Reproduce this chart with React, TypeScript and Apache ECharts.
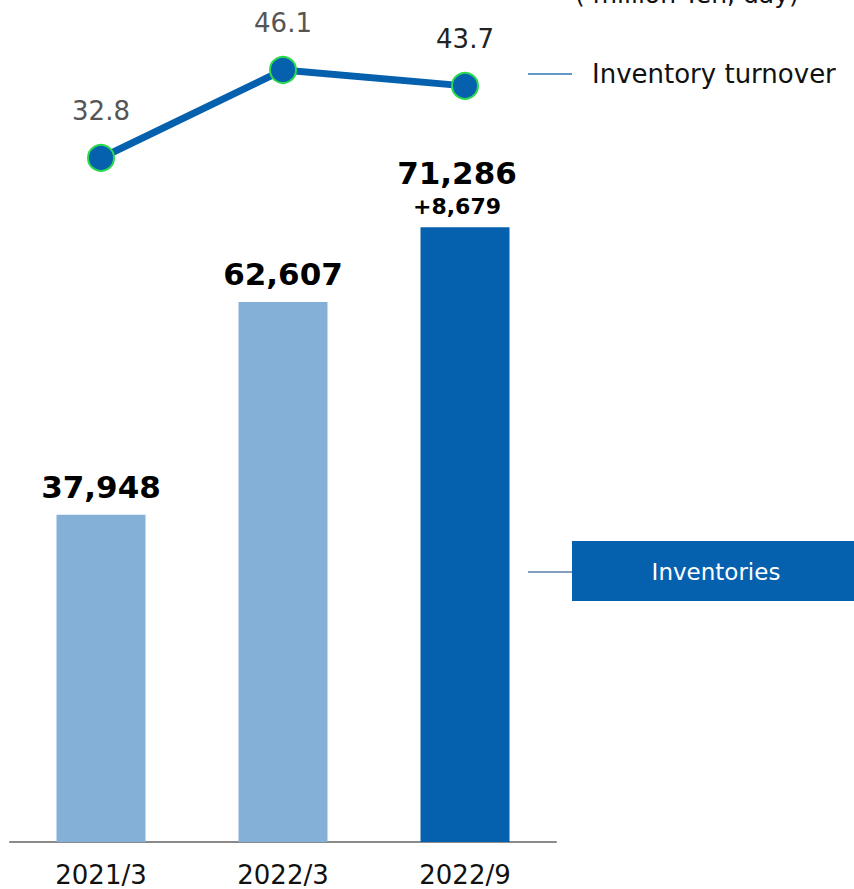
import React, { useEffect, useRef } from "react";
import * as echarts from "echarts";

const categories = ["2021/3", "2022/3", "2022/9"];
const inventories = [37948, 62607, 71286];
const turnover = [32.8, 46.1, 43.7];
const changeLabel = "+8,679";
const barColors = ["#84b0d7", "#84b0d7", "#0561ae"];
const turnoverLabelColors = ["#555555", "#555555", "#222222"];
const unitText = "( million Yen, day)";
const lineLegend = "Inventory turnover";
const barLegend = "Inventories";

const FONT = "DejaVu Sans";

export default function App() {
  const ref = useRef<HTMLDivElement>(null);
  useEffect(() => {
    if (!ref.current) return;
    const chart = echarts.init(ref.current, null, { renderer: "svg" });
    const fmt = (v: number) => v.toLocaleString("en-US");
    chart.setOption({
      animation: false,
      textStyle: { fontFamily: FONT },
      grid: [
        { left: 10, right: 298, top: 152, bottom: 47 },
        { left: 10, right: 298, top: 44.2, height: 132.3 },
      ],
      xAxis: [
        {
          type: "category",
          data: categories,
          gridIndex: 0,
          axisLine: { lineStyle: { color: "#8a8a8a", width: 2 } },
          axisTick: { show: false },
          axisLabel: {
            fontSize: 26,
            lineHeight: 24,
            color: "#111",
            margin: 21,
            fontFamily: FONT,
          },
        },
        { type: "category", data: categories, gridIndex: 1, show: false },
      ],
      yAxis: [
        { type: "value", min: 0, max: 80000, gridIndex: 0, show: false },
        { type: "value", min: 30, max: 50, gridIndex: 1, show: false },
      ],
      series: [
        {
          type: "bar",
          xAxisIndex: 0,
          yAxisIndex: 0,
          barWidth: 89,
          data: inventories.map((v, i) => ({
            value: v,
            itemStyle: { color: barColors[i] },
            label:
              i === inventories.length - 1
                ? {
                    formatter: `{a|${fmt(v)}}\n{b|${changeLabel}}`,
                    offset: [-8, 0],
                  }
                : undefined,
          })),
          label: {
            show: true,
            position: "top",
            distance: 8,
            formatter: (p: any) => fmt(p.value),
            color: "#000",
            fontSize: 31,
            fontWeight: "bold",
            lineHeight: 40,
            fontFamily: FONT,
            rich: {
              a: { fontSize: 31, fontWeight: "bold", lineHeight: 40, color: "#000", fontFamily: FONT },
              b: { fontSize: 22, fontWeight: "bold", lineHeight: 26, color: "#000", fontFamily: FONT },
            },
          },
        },
        {
          type: "line",
          xAxisIndex: 1,
          yAxisIndex: 1,
          data: turnover.map((v, i) => ({
            value: v,
            label: { color: turnoverLabelColors[i] },
          })),
          lineStyle: { color: "#0561ae", width: 7 },
          symbol: "circle",
          symbolSize: 26,
          itemStyle: { color: "#0561ae", borderColor: "#2bd94f", borderWidth: 2 },
          label: {
            show: true,
            position: "top",
            distance: 20,
            fontSize: 26,
            fontFamily: FONT,
            formatter: (p: any) => p.value.toFixed(1),
          },
        },
      ],
      graphic: [
        {
          type: "text",
          left: 575,
          top: -18,
          style: { text: unitText, fontSize: 25, fill: "#111", fontFamily: FONT },
        },
        {
          type: "line",
          shape: { x1: 528, y1: 74, x2: 572, y2: 74 },
          style: { stroke: "#2f74b5", lineWidth: 1.5 },
        },
        {
          type: "text",
          x: 592,
          y: 74,
          style: {
            text: lineLegend,
            fontSize: 26,
            fill: "#111",
            fontFamily: FONT,
            verticalAlign: "middle",
          },
        },
        {
          type: "line",
          shape: { x1: 528, y1: 572, x2: 572, y2: 572 },
          style: { stroke: "#5a7ca8", lineWidth: 1.5 },
        },
        {
          type: "rect",
          shape: { x: 572, y: 541, width: 282, height: 60 },
          style: { fill: "#0561ae" },
        },
        {
          type: "text",
          x: 716,
          y: 572,
          style: {
            text: barLegend,
            fontSize: 23,
            fill: "#fff",
            fontFamily: FONT,
            align: "center",
            verticalAlign: "middle",
          },
        },
      ],
    });
    return () => chart.dispose();
  }, []);
  return (
    <div
      ref={ref}
      style={{ position: "fixed", left: 0, top: 0, width: 854, height: 889, background: "#fff" }}
    />
  );
}
